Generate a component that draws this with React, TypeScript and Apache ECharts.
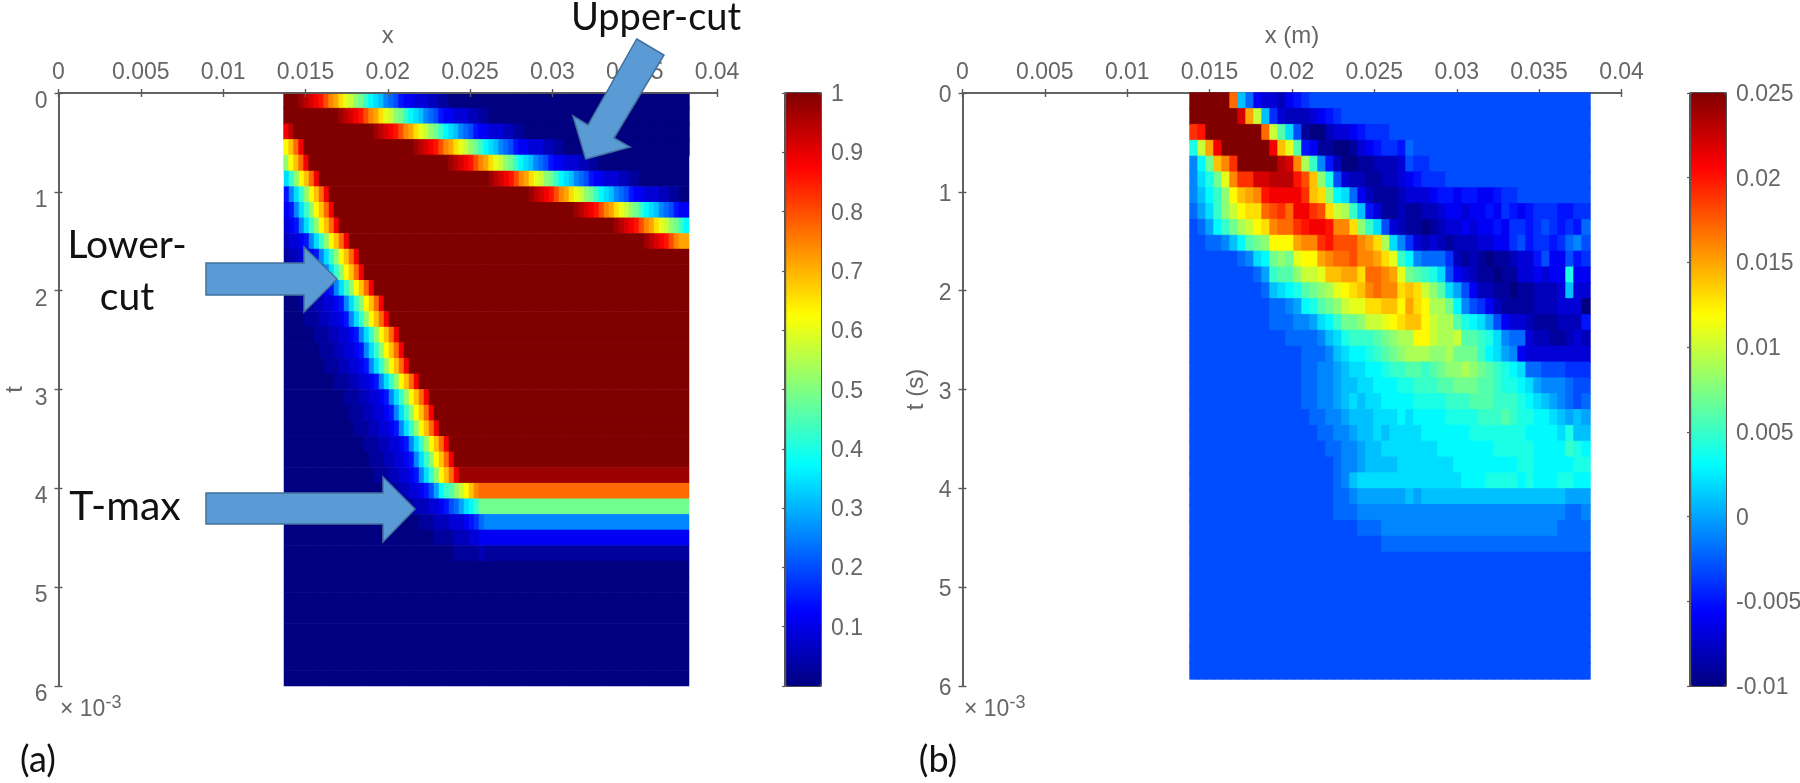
import React, { useEffect, useRef } from "react";
import * as echarts from "echarts";

// Heat levels: one base-36 character per cell, 0 = bottom of the colour scale, z = top.
const rowsA = [
  "zzzyxwvusqpnlkihfdcb98754433322110000000000000000000000000000000000000000000000000",
  "zzzzzzzzzzzyxwvusqpnlkihfdcb987544333221100000000000000000000000000000000000000000",
  "vxzzzzzzzzzzzzzzzzyxwvusqpnlkihfdcb98754433322110000000000000000000000000000000",
  "morvzzzzzzzzzzzzzzzzzzzzzzyxwvusqpnlkihfdcb98754433322110000000000000000000000000",
  "imorvzzzzzzzzzzzzzzzzzzzzzzzzzzzzyxwvusqpnlkihfdcb987544333221100000000000000000",
  "cfimorvzzzzzzzzzzzzzzzzzzzzzzzzzzzzzzzzzzyxwvusqpnlkihfdcb98754433322110000000",
  "59cfimorvzzzzzzzzzzzzzzzzzzzzzzzzzzzzzzzzzzzzzzzzyxwvusqpnlkihfdcb98754433322110",
  "459cfimorvzzzzzzzzzzzzzzzzzzzzzzzzzzzzzzzzzzzzzzzzzzzzzzzzyxwvusqpnlkihfdcb987544",
  "3459cfimorvzzzzzzzzzzzzzzzzzzzzzzzzzzzzzzzzzzzzzzzzzzzzzzzzzzzzzzzyxwvusqpnlkihfd",
  "233459cfimorvzzzzzzzzzzzzzzzzzzzzzzzzzzzzzzzzzzzzzzzzzzzzzzzzzzzzzzzzzzzyxwvusqp",
  "12233459cfimorvzzzzzzzzzzzzzzzzzzzzzzzzzzzzzzzzzzzzzzzzzzzzzzzzzzzzzzzzzzzzzzzzzz",
  "112233459cfimorvzzzzzzzzzzzzzzzzzzzzzzzzzzzzzzzzzzzzzzzzzzzzzzzzzzzzzzzzzzzzzzzzz",
  "01112233459cfimorvzzzzzzzzzzzzzzzzzzzzzzzzzzzzzzzzzzzzzzzzzzzzzzzzzzzzzzzzzzzzzzz",
  "0001112233459cfimorvzzzzzzzzzzzzzzzzzzzzzzzzzzzzzzzzzzzzzzzzzzzzzzzzzzzzzzzzzzzzz",
  "00001112233459cfimorvzzzzzzzzzzzzzzzzzzzzzzzzzzzzzzzzzzzzzzzzzzzzzzzzzzzzzzzzzzzz",
  "0000001112233459cfimorvzzzzzzzzzzzzzzzzzzzzzzzzzzzzzzzzzzzzzzzzzzzzzzzzzzzzzzzzzz",
  "00000001112233459cfimorvzzzzzzzzzzzzzzzzzzzzzzzzzzzzzzzzzzzzzzzzzzzzzzzzzzzzzzzzz",
  "000000001112233459cfimorvzzzzzzzzzzzzzzzzzzzzzzzzzzzzzzzzzzzzzzzzzzzzzzzzzzzzzzzz",
  "00000000001112233459cfimorvzzzzzzzzzzzzzzzzzzzzzzzzzzzzzzzzzzzzzzzzzzzzzzzzzzzzzz",
  "0000000000001112233459cfimorvzzzzzzzzzzzzzzzzzzzzzzzzzzzzzzzzzzzzzzzzzzzzzzzzzzzz",
  "00000000000001112233459cfimorvzzzzzzzzzzzzzzzzzzzzzzzzzzzzzzzzzzzzzzzzzzzzzzzzzzz",
  "000000000000001112233459cfimorvzzzzzzzzzzzzzzzzzzzzzzzzzzzzzzzzzzzzzzzzzzzzzzzzzz",
  "00000000000000001112233459cfimorvzzzzzzzzzzzzzzzzzzzzzzzzzzzzzzzzzzzzzzzzzzzzzzzz",
  "000000000000000001112233459cfimorvzzzzzzzzzzzzzzzzzzzzzzzzzzzzzzzzzzzzzzzzzzzzzzz",
  "0000000000000000001112233459cfimorvyyyyyyyyyyyyyyyyyyyyyyyyyyyyyyyyyyyyyyyyyyyyyy",
  "000000000000000000001112233457adfgikmoqrrrrrrrrrrrrrrrrrrrrrrrrrrrrrrrrrrrrrrrrrr",
  "00000000000000000000000111222334578acdfhhhhhhhhhhhhhhhhhhhhhhhhhhhhhhhhhhhhhhhhhh",
  "000000000000000000000000000111222333456899999999999999999999999999999999999999999",
  "000000000000000000000000000000111122233444444444444444444444444444444444444444444",
  "000000000000000000000000000000000011111211111111111111111111111111111111111111111",
  "000000000000000000000000000000000000000000000000000000000000000000000000000000000",
  "000000000000000000000000000000000000000000000000000000000000000000000000000000000",
  "000000000000000000000000000000000000000000000000000000000000000000000000000000000",
  "000000000000000000000000000000000000000000000000000000000000000000000000000000000",
  "000000000000000000000000000000000000000000000000000000000000000000000000000000000",
  "000000000000000000000000000000000000000000000000000000000000000000000000000000000",
  "000000000000000000000000000000000000000000000000000000000000000000000000000000000",
  "000000000000000000000000000000000000000000000000000000000000000000000000000000000",
];

const rowsB = [
  "zzzzzrb8433245677777777777777777777777777777777777",
  "zzzzzzwpkb6322234567777777777777777777777777777777",
  "tuzzzzzzzrkgc7100233456667777777777777777777777777",
  "ekpvzzzzzzvolg541100134566587777777777777777777777",
  "9dhoqtzzzzzxwqjf9520011222376677777777777777777777",
  "9cehlqttwwxxxusoie73221122345666777777777777777777",
  "9bdfimopquvvvvtonidc842111233345545544566777777777",
  "8acfikmnnrstrvvtsnkjfb5311211223443445465456665566",
  "78adfhjkmnqrrtuvvuqqnifc73211012334344546656765658",
  "77889bdghimmmpqqtusssqpnjc963232122233446756656897",
  "77777789cdhihlmmpqrrsqqpnlfd9888621210112335744756",
  "777777778afggikkloopp nrrqplhgfec7432110113343 44e44",
  "7777777778bcdeghijlmnoqrqqnonkigca7422110112223b33",
  "777777777788 9adeghikllnnoomp nmjjhd97642111122 23330",
  "7777777777 88899acdfhhikklmnoomkjjgedca743321112225",
  "777777777777 88889bcefffghijjmmkjjkggfec98832211 2328",
  "77777777777777 8889bcddefghijjjiijhhhfdca9433333 3333",
  "77777777777777 8899abccddeffggfghiijihgfedc88777666",
  "77777777777777 8899abbccdddeeff fgghhhggfeedca99987 7",
  "77777777777777 8899abcbccddddeeeefffgggfffedcba9878",
  "777777777777777 8899abbbcccdcddddeeeefffgfeeddcbaba",
  "7777777777777777 8899abbcbccccddddddeeeeeeedddd cebb",
  "77777777777777777 8899abbcccccccdddddddeeeeedddd fed",
  "777777777777777777 899abbbbcccccccddddddddeeddddd ee",
  "777777777777777777 89bccccccccccccc dddeeeededddeedd",
  "777777777777777777 889aaaaaababbbbbbbbbbbbbbbbbbaaa",
  "777777777777777777 88899999999999999999999999999889",
  "777777777777777777777 8889999999999999999999999 888",
  "777777777777777777777777 888888888888888888888888888",
  "77777777777777777777777777777777777777777777777777",
  "77777777777777777777777777777777777777777777777777",
  "77777777777777777777777777777777777777777777777777",
  "77777777777777777777777777777777777777777777777777",
  "77777777777777777777777777777777777777777777777777",
  "77777777777777777777777777777777777777777777777777",
  "77777777777777777777777777777777777777777777777777",
  "77777777777777777777777777777777777777777777777777",
];

const colsA = 81;
const colsB = 50;
const rangeA: [number, number] = [0, 1];
const rangeB: [number, number] = [-0.01, 0.025];
const jet = ["#000080", "#0000ff", "#0080ff", "#00ffff", "#80ff80", "#ffff00", "#ff8000", "#ff0000", "#800000"];

const GREY = "#666666";
const LINE = "#5a5a5a";
const TICK_FONT = 23;
const SANS = "Liberation Sans";
const NOTE = "Lato";

function decode(rows: string[], cols: number, range: [number, number]) {
  const out: [number, number, number][] = [];
  rows.forEach((raw, r) => {
    const row = raw.replace(/ /g, "");
    const full = row.padEnd(cols, row[row.length - 1]).slice(0, cols);
    for (let c = 0; c < cols; c++) {
      const level = parseInt(full[c], 36);
      out.push([c, r, range[0] + (level / 35) * (range[1] - range[0])]);
    }
  });
  return out;
}
const idx = (n: number) => Array.from({ length: n }, (_, i) => String(i));

const frameAxisBase = {
  axisLine: { show: true, lineStyle: { color: LINE, width: 1.6 } },
  axisTick: { show: true, inside: true, length: 4, lineStyle: { color: LINE, width: 1.4 } },
  splitLine: { show: false },
};

function panelAxes(gridIndex: number, xName: string, yName: string, z: number, labelDrop: number, yGap: number) {
  const xTop = {
    ...frameAxisBase, type: "value", gridIndex, position: "top", min: 0, max: 0.04, interval: 0.005, z,
    name: xName, nameLocation: "middle", nameGap: 47,
    nameTextStyle: { color: GREY, fontFamily: SANS, fontSize: 24 },
    axisLabel: { show: true, color: GREY, fontFamily: SANS, fontSize: TICK_FONT, margin: 11 },
  };
  const xBottom = {
    ...frameAxisBase, type: "value", gridIndex, position: "bottom", min: 0, max: 0.04, interval: 0.005, z,
    axisLabel: { show: false },
  };
  const yLeft = {
    ...frameAxisBase, type: "value", gridIndex, position: "left", inverse: true, min: 0, max: 6, interval: 1, z,
    name: yName, nameLocation: "middle", nameGap: yGap, nameRotate: 90,
    nameTextStyle: { color: GREY, fontFamily: SANS, fontSize: 24 },
    axisLabel: {
      show: true, color: GREY, fontFamily: SANS, fontSize: TICK_FONT, margin: 11,
      verticalAlign: "top", lineHeight: labelDrop,
    },
  };
  const yRight = {
    ...frameAxisBase, type: "value", gridIndex, position: "right", inverse: true, min: 0, max: 6, interval: 1, z,
    axisLabel: { show: false },
  };
  return { xTop, xBottom, yLeft, yRight };
}

const arrow = (points: number[][]) => ({
  type: "polygon",
  z: 100,
  shape: { points },
  style: { fill: "#5b9bd5", stroke: "#41719c", lineWidth: 1.5 },
});
const note = (text: string, x: number, y: number, size = 38) => ({
  type: "text",
  z: 101,
  x,
  y,
  style: { text, fill: "#111", fontFamily: NOTE, fontSize: size, textAlign: "center", textVerticalAlign: "middle" },
});
const scaleMark = (x: number) => ({
  type: "text",
  z: 50,
  x,
  y: 708,
  style: {
    text: "{a|× 10}{b|-3}",
    textVerticalAlign: "middle",
    rich: {
      a: { fontFamily: SANS, fontSize: 23, fill: GREY, color: GREY },
      b: { fontFamily: SANS, fontSize: 18, fill: GREY, color: GREY, padding: [0, 0, 12, 0] },
    },
  },
});

export default function App() {
  const ref = useRef<HTMLDivElement>(null);
  useEffect(() => {
    const chart = echarts.init(ref.current!, undefined, { renderer: "svg" });
    const a = panelAxes(1, "x", "t", 10, 14, 33);
    const b = panelAxes(4, "x (m)", "t (s)", 1, 2, 36);
    const hidden = { show: false };
    const barAxis = (gridIndex: number, min: number, max: number, interval: number, hideZero: boolean) => ({
      type: "value", gridIndex, position: "right", min, max, interval, z: 10,
      axisLine: { show: true, lineStyle: { color: LINE, width: 1.4 } },
      axisTick: { show: true, inside: true, length: 3, lineStyle: { color: LINE, width: 1.2 } },
      splitLine: { show: false },
      axisLabel: {
        show: true, color: GREY, fontFamily: SANS, fontSize: TICK_FONT, margin: 10,
        formatter: (v: number) => (hideZero && v === 0 ? "" : String(v)),
      },
    });
    const free = { outerBoundsMode: "none" };
    chart.setOption({
      animation: false,
      backgroundColor: "#fff",
      grid: [
        { ...free, left: 284, top: 93, width: 405, height: 593 },
        { ...free, left: 58.5, top: 93, width: 658.5, height: 593 },
        { ...free, left: 785, top: 93, width: 36, height: 593, show: true, borderColor: LINE, borderWidth: 1.4, backgroundColor: "transparent" },
        { ...free, left: 1190, top: 93, width: 400, height: 586 },
        { ...free, left: 962.5, top: 93, width: 659, height: 593 },
        { ...free, left: 1690, top: 93, width: 36, height: 593, show: true, borderColor: LINE, borderWidth: 1.4, backgroundColor: "transparent" },
      ],
      xAxis: [
        { type: "category", gridIndex: 0, data: idx(colsA), ...hidden },
        a.xTop, a.xBottom,
        { type: "value", gridIndex: 2, min: 0, max: 1, ...hidden },
        { type: "category", gridIndex: 3, data: idx(colsB), ...hidden },
        b.xTop, b.xBottom,
        { type: "value", gridIndex: 5, min: 0, max: 1, ...hidden },
      ],
      yAxis: [
        { type: "category", gridIndex: 0, inverse: true, data: idx(rowsA.length), ...hidden },
        a.yLeft, a.yRight,
        barAxis(2, rangeA[0], rangeA[1], 0.1, true),
        { type: "category", gridIndex: 3, inverse: true, data: idx(rowsB.length), ...hidden },
        b.yLeft, b.yRight,
        barAxis(5, rangeB[0], rangeB[1], 0.005, false),
      ],
      visualMap: [
        {
          type: "continuous", seriesIndex: 0, min: rangeA[0], max: rangeA[1], calculable: false, show: true,
          left: 785, top: 93, itemWidth: 36, itemHeight: 593, padding: 0, inRange: { color: jet }, textStyle: { fontSize: 1, color: "transparent" },
        },
        {
          type: "continuous", seriesIndex: 1, min: rangeB[0], max: rangeB[1], calculable: false, show: true,
          left: 1690, top: 93, itemWidth: 36, itemHeight: 593, padding: 0, inRange: { color: jet }, textStyle: { fontSize: 1, color: "transparent" },
        },
      ],
      series: [
        { type: "heatmap", name: "(a)", xAxisIndex: 0, yAxisIndex: 0, data: decode(rowsA, colsA, rangeA), silent: true },
        { type: "heatmap", name: "(b)", xAxisIndex: 4, yAxisIndex: 4, data: decode(rowsB, colsB, rangeB), silent: true },
      ],
      graphic: [
        arrow([[206, 263], [304, 263], [304, 247], [337, 279], [304, 312], [304, 295], [206, 295]]),
        arrow([[206, 493], [383, 493], [383, 477], [415, 509], [383, 542], [383, 524], [206, 524]]),
        arrow([[636.7, 39], [664, 55], [614, 138], [630, 147], [585.7, 159], [573, 116], [588, 125]]),
        note("Upper-cut", 656, 15),
        note("Lower-", 127, 243, 39),
        note("cut", 127, 295, 39),
        note("T-max", 125, 504, 41),
        note("(a)", 38, 758, 36),
        note("(b)", 938, 758, 36),
        scaleMark(60),
        scaleMark(964),
      ],
    });
    // Close the hairline seams between adjacent heat cells: each cell's edge takes its own fill.
    ref.current!.querySelectorAll("path").forEach((p) => {
      const fill = p.getAttribute("fill");
      const stroke = p.getAttribute("stroke");
      const width = p.getAttribute("stroke-width");
      if (fill && fill !== "none" && fill !== "transparent" && !fill.startsWith("url") && (!stroke || stroke === "none" || width === "0")) {
        p.setAttribute("stroke", fill);
        p.setAttribute("stroke-width", "0.8");
      }
    });
    return () => chart.dispose();
  }, []);
  return <div ref={ref} style={{ position: "fixed", left: 0, top: 0, width: 1800, height: 783, background: "#fff", filter: "blur(0.6px)" }} />;
}
